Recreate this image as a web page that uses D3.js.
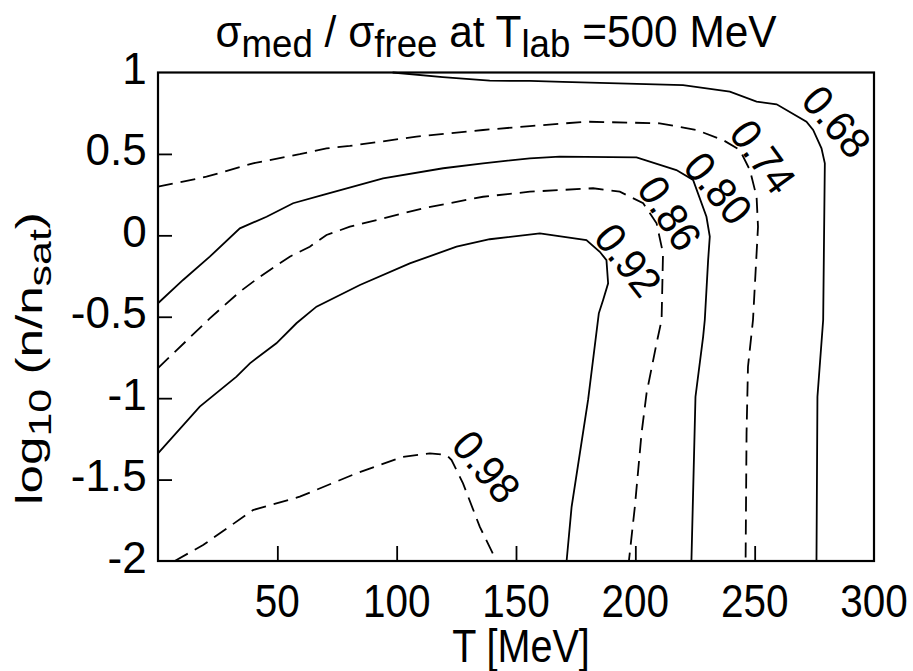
<!DOCTYPE html>
<html>
<head>
<meta charset="utf-8">
<script src="https://cdn.jsdelivr.net/npm/d3@7"></script>
<style>
  body { margin: 0; background: #fff; }
  svg { display: block; }
  text { font-family: "Liberation Sans", Arial, Helvetica, sans-serif; fill: #000; }
</style>
</head>
<body>
<div id="chart"></div>
<script>
// contour lines of sigma_med / sigma_free, points as [T (MeV), log10(n/nsat)]
const levels = ["0.68", "0.74", "0.80", "0.86", "0.92", "0.98"];
const dashed = [false, true, false, true, false, true];

const c068 = [[98.3,1.0],[119.3,0.971],[139.0,0.950],[155.8,0.948],[169.6,0.943],[220.0,0.923],
  [239.6,0.882],[250.8,0.821],[259.2,0.805],[271.7,0.698],[274.5,0.647],[278.0,0.534],
  [279.4,0.442],[278.7,-0.520],[276.3,-0.991],[275.9,-2.0]];
const c074 = [[0,0.299],[20.3,0.360],[39.8,0.442],[59.4,0.498],[70.6,0.534],[80.4,0.549],
  [108.3,0.606],[136.2,0.647],[155.8,0.671],[179.5,0.698],[210.2,0.688],[225.6,0.647],
  [236.8,0.585],[243.8,0.524],[248.0,0.401],[250.8,0.237],[251.4,0.053],[249.3,-0.520],
  [247.2,-0.807],[246.6,-1.214],[246.2,-2.0]];
const c080 = [[0,-0.417],[10.5,-0.274],[21.7,-0.131],[34.3,0.043],[45.5,0.114],[56.6,0.197],
  [69.2,0.248],[94.3,0.350],[119.5,0.412],[136.2,0.442],[155.8,0.473],[168.3,0.483],
  [200.5,0.479],[217.2,0.401],[224.2,0.340],[229.8,0.114],[231.2,-0.008],[230.5,-0.152],
  [229.1,-0.520],[228.4,-0.623],[225.2,-0.991],[223.5,-2.0]];
const c086 = [[0,-0.815],[2.8,-0.776],[21.7,-0.510],[34.3,-0.346],[42.7,-0.254],[55.2,-0.131],
  [63.6,-0.070],[70.6,0.002],[80.4,0.053],[111.1,0.166],[136.2,0.237],[155.8,0.268],
  [182.3,0.289],[193.5,0.268],[203.3,0.197],[208.9,0.074],[211.6,-0.110],[211.0,-0.520],
  [208.9,-0.663],[204.7,-0.970],[202.6,-1.216],[199.8,-1.667],[197.3,-2.0]];
const c092 = [[0,-1.339],[17.5,-1.052],[32.9,-0.868],[38.5,-0.786],[49.6,-0.663],[58.0,-0.540],
  [66.4,-0.438],[84.6,-0.305],[105.5,-0.172],[125.1,-0.070],[139.0,-0.024],[160.0,0.012],
  [179.5,-0.029],[185.1,-0.101],[187.9,-0.152],[188.6,-0.295],[186.5,-0.397],[184.7,-0.479],
  [180.2,-1.011],[173.3,-1.667],[171.2,-2.0]];
const c098 = [[7.0,-2.0],[18.9,-1.902],[39.8,-1.687],[59.4,-1.605],[83.2,-1.461],[102.7,-1.360],
  [113.9,-1.339],[120.9,-1.349],[123.0,-1.380],[127.8,-1.523],[134.8,-1.789],[141.8,-2.0]];
const contours = [c068, c074, c080, c086, c092, c098];

// where each level's label sits, [T, log10(n/nsat)]
const labelAt = [[284.3,0.698],[253.5,0.483],[234.7,0.289],[214.4,0.135],[197.0,-0.152],[137.6,-1.421]];
const labelAngle = [49, 54, 50, 57, 52, 50];

const xTicks = [50, 100, 150, 200, 250, 300];
const yTicks = [1, 0.5, 0, -0.5, -1, -1.5, -2];

var width = 913, height = 671;
var margin = {left: 158, right: 39, top: 72.5, bottom: 110};

var svg = d3.select("#chart").append("svg")
  .attr("width", width).attr("height", height);

var x = d3.scaleLinear().domain([0, 300]).range([margin.left, width - margin.right]);
var y = d3.scaleLinear().domain([-2, 1]).range([height - margin.bottom, margin.top]);

// text in its own group so it can be squeezed like the narrow font of the original
function addText(px, py, size, sx, anchor, rot) {
  var g = svg.append("g")
    .attr("transform", "translate(" + px + "," + py + ")" + (rot ? " rotate(" + rot + ")" : "") + " scale(" + sx + ",1)");
  return g.append("text").attr("text-anchor", anchor).attr("font-size", size);
}
function fitLength(t, len) {
  var w = t.node().getBBox().width;
  var g = d3.select(t.node().parentNode);
  g.attr("transform", g.attr("transform").replace(/scale\([^)]*\)/, "scale(" + (len / w) + ",1)"));
}

// contours
var line = d3.line().x(d => x(d[0])).y(d => y(d[1]));

svg.append("g").selectAll("path.contour")
  .data(contours)
  .enter().append("path")
  .attr("class", "contour")
  .attr("d", line)
  .attr("fill", "none")
  .attr("stroke", "#000")
  .attr("stroke-width", 1.8)
  .attr("stroke-dasharray", (d, i) => dashed[i] ? "15,8" : null);

levels.forEach((lv, i) => {
  addText(x(labelAt[i][0]), y(labelAt[i][1]), 43, 0.94, "middle", labelAngle[i])
    .attr("dominant-baseline", "central")
    .text(lv);
});

// axes with inward ticks
svg.append("g")
  .attr("transform", "translate(0," + y(-2) + ")")
  .call(d3.axisBottom(x).tickValues(xTicks.filter(t => t < 300)).tickSizeInner(-15).tickSizeOuter(0).tickFormat(""));
svg.append("g")
  .attr("transform", "translate(" + x(0) + ",0)")
  .call(d3.axisLeft(y).tickValues(yTicks.filter(t => t > -2 && t < 1)).tickSizeInner(-14).tickSizeOuter(0).tickFormat(""));
svg.selectAll(".domain").remove();
svg.selectAll(".tick line").attr("stroke", "#000").attr("stroke-width", 1.8);

svg.append("rect")
  .attr("x", x(0)).attr("y", y(1))
  .attr("width", x(300) - x(0)).attr("height", y(-2) - y(1))
  .attr("fill", "none").attr("stroke", "#000").attr("stroke-width", 2.2);

// tick labels
xTicks.forEach(t => {
  addText(x(t), 616.7, 46, 0.88, "middle").text(t);
});
yTicks.forEach(t => {
  addText(146.7, y(t) + 11.5, 44, 1, "end").text(t);
});

// axis titles
addText(521, 662, 46, 0.86, "middle").text("T [MeV]");

var yl = addText(41.7, 358.5, 37, 1, "middle", -90);
yl.append("tspan").text("log");
yl.append("tspan").attr("dy", 9).attr("font-size", 31).text("10");
yl.append("tspan").attr("dy", -9).text(" (n/n");
yl.append("tspan").attr("dy", 9).attr("font-size", 31).text("sat");
yl.append("tspan").attr("dy", -9).text(")");
fitLength(yl, 293);

var title = addText(496, 46.7, 44, 1, "middle");
title.append("tspan").text("σ");
title.append("tspan").attr("dy", 10).attr("font-size", 38).text("med");
title.append("tspan").attr("dy", -10).text(" / σ");
title.append("tspan").attr("dy", 10).attr("font-size", 38).text("free");
title.append("tspan").attr("dy", -10).text(" at T");
title.append("tspan").attr("dy", 10).attr("font-size", 38).text("lab");
title.append("tspan").attr("dy", -10).text(" =500 MeV");
fitLength(title, 562);
</script>
</body>
</html>
